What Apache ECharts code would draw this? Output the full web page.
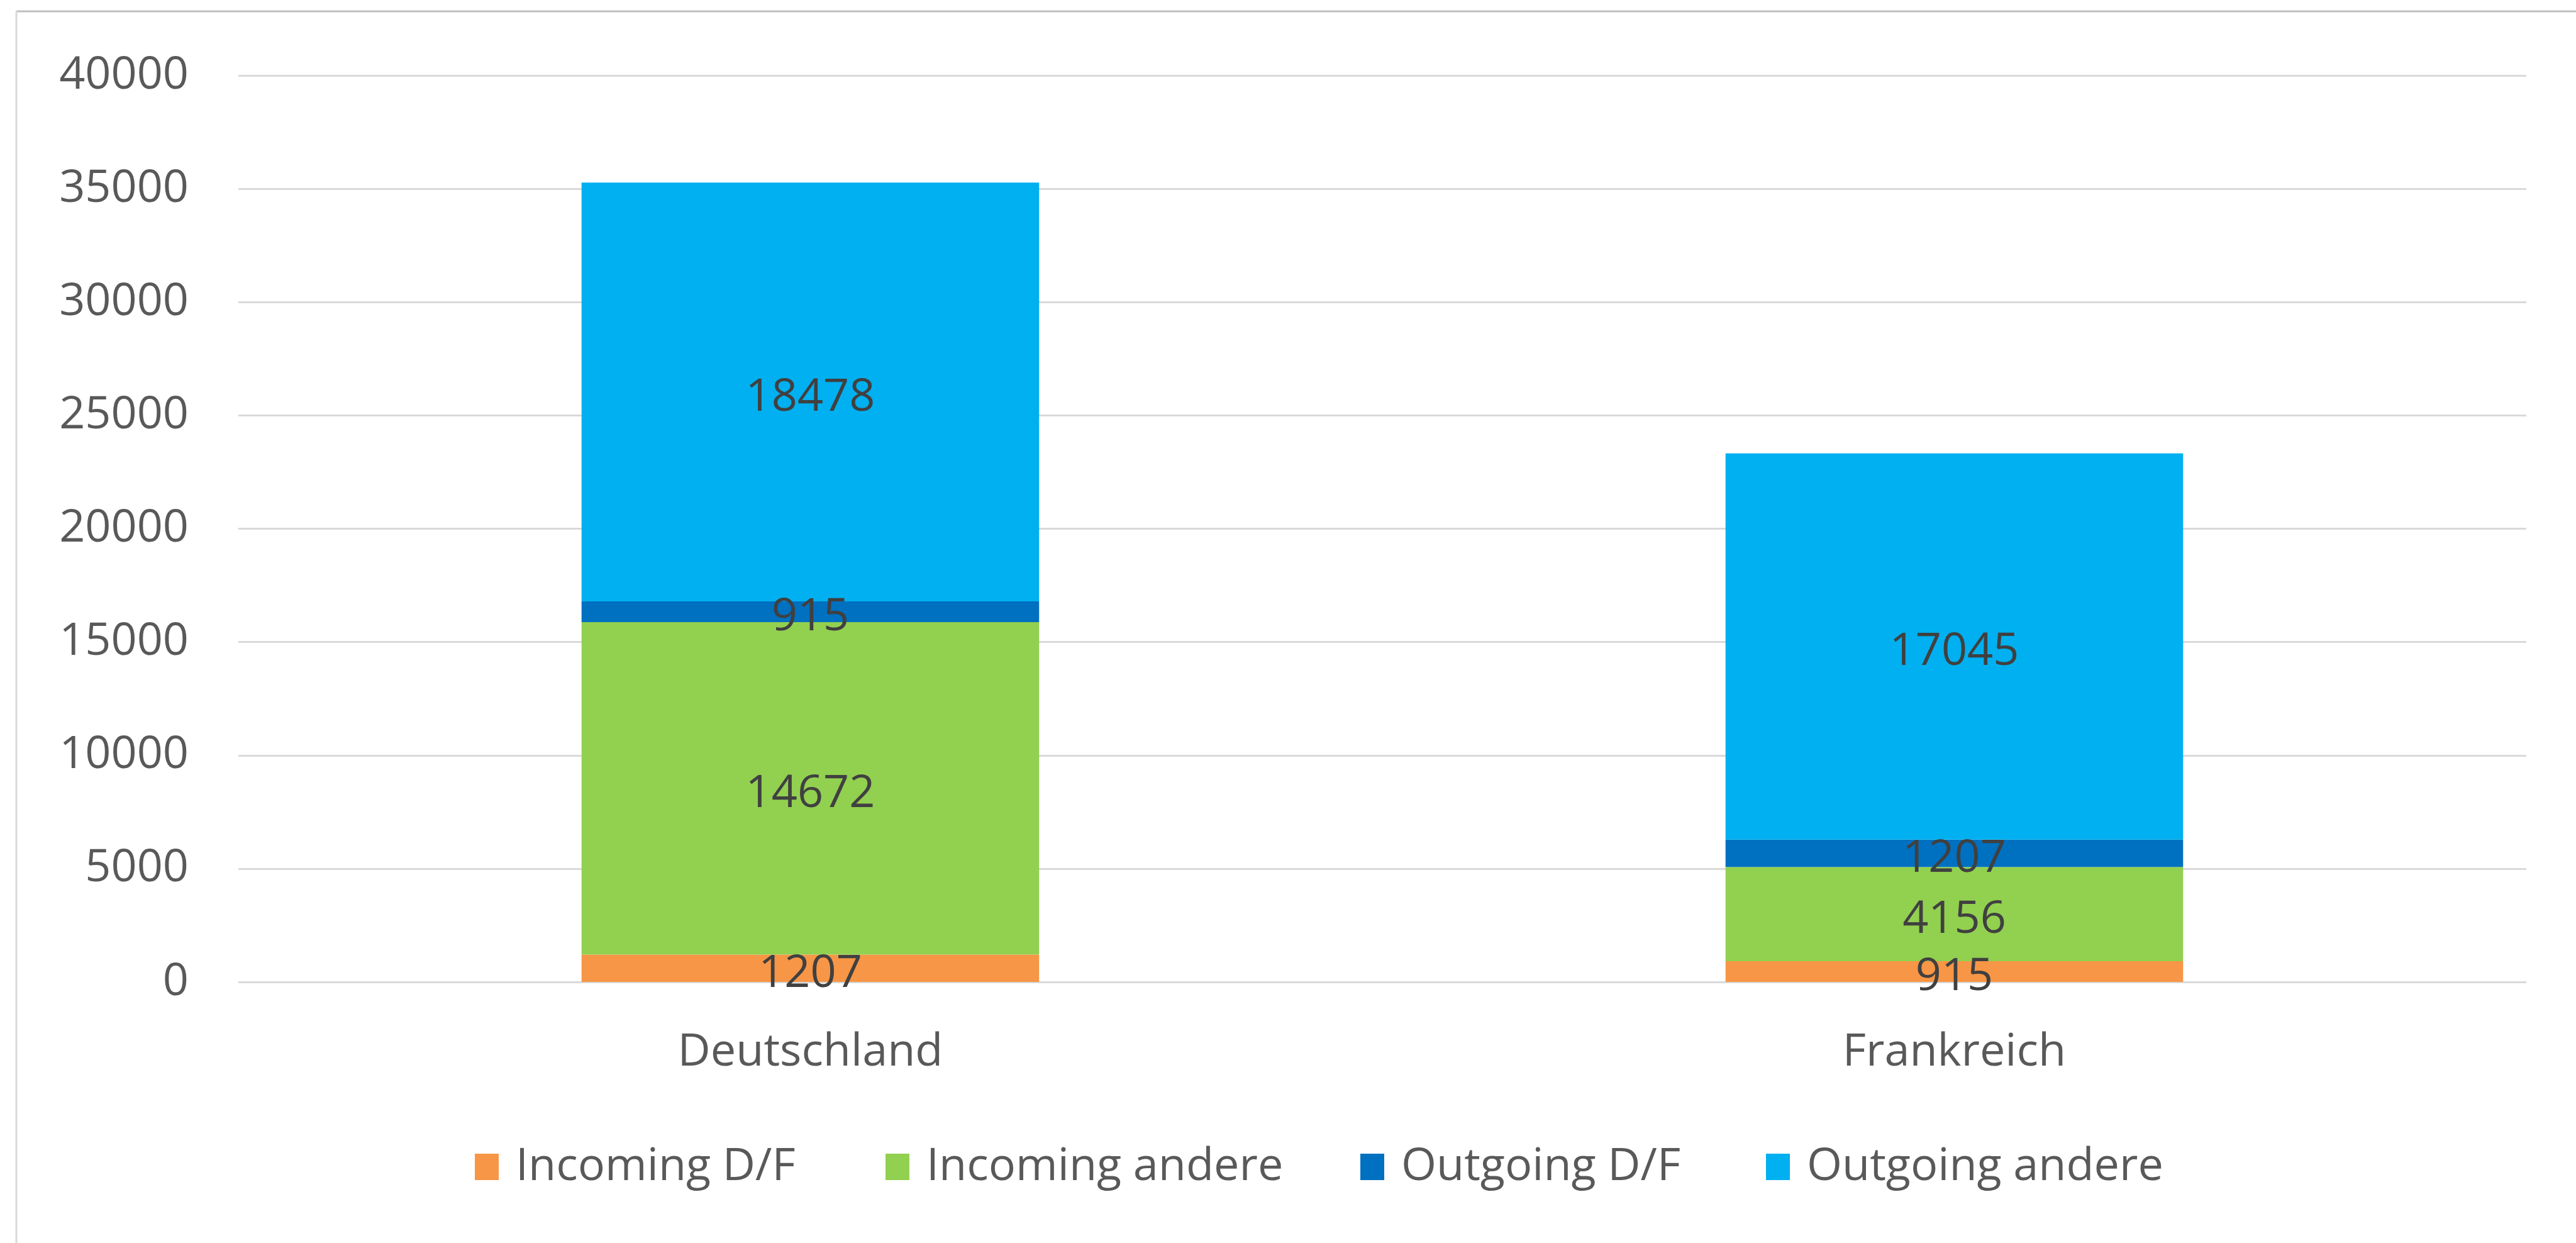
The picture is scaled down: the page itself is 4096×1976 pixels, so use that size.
<!DOCTYPE html>
<html>
<head>
<meta charset="utf-8">
<title>Incoming / Outgoing</title>
<script src="https://cdn.jsdelivr.net/npm/echarts@6/dist/echarts.min.js"></script>
<style>
    html, body { margin: 0; padding: 0; background: #fff; }
    #chart { width: 4096px; height: 1976px; }
</style>
</head>
<body>
<div id="chart"></div>
<script>
// Daten
var categories = ['Deutschland', 'Frankreich'];
var seriesNames = ['Incoming D/F', 'Incoming andere', 'Outgoing D/F', 'Outgoing andere'];
var incomingDF = [1207, 915];
var incomingAndere = [14672, 4156];
var outgoingDF = [915, 1207];
var outgoingAndere = [18478, 17045];
var yTicks = [0, 5000, 10000, 15000, 20000, 25000, 30000, 35000, 40000];

var colors = ['#F79646', '#92D050', '#0070C0', '#00B0F0'];
var values = [incomingDF, incomingAndere, outgoingDF, outgoingAndere];
var legendLeft = [750, 1403, 2158, 2803];
var font = 'Open Sans';

var chart = echarts.init(document.getElementById('chart'));

var series = [];
var legends = [];
for (var i = 0; i < seriesNames.length; i++) {
    series.push({
        name: seriesNames[i],
        type: 'bar',
        stack: 'total',
        barWidth: '40%',
        itemStyle: {color: colors[i]},
        label: {
            show: true,
            position: 'inside',
            offset: [0, 9],
            color: '#404040',
            fontFamily: font,
            fontSize: 72
        },
        data: values[i]
    });
    // eine Legende pro Eintrag, damit die Abstände stimmen
    legends.push({
        data: [seriesNames[i]],
        left: legendLeft[i],
        top: 1814,
        itemWidth: 38,
        itemHeight: 42,
        icon: 'rect',
        textStyle: {
            color: '#595959',
            fontFamily: font,
            fontSize: 72,
            padding: [0, 0, 0, 22]
        }
    });
}

var option = {
    backgroundColor: '#ffffff',
    animation: false,
    legend: legends,
    grid: {
        left: 379,
        right: 79,
        top: 120,
        bottom: 415
    },
    xAxis: {
        type: 'category',
        data: categories,
        axisLine: {show: false},
        axisTick: {show: false},
        axisLabel: {
            color: '#595959',
            fontFamily: font,
            fontSize: 72,
            lineHeight: 72,
            margin: 76
        }
    },
    yAxis: {
        type: 'value',
        min: yTicks[0],
        max: yTicks[yTicks.length - 1],
        interval: yTicks[1] - yTicks[0],
        axisLine: {show: false},
        axisTick: {show: false},
        axisLabel: {
            color: '#595959',
            fontFamily: font,
            fontSize: 72,
            margin: 79,
            formatter: function (v) {
                return String(v);
            }
        },
        splitLine: {
            lineStyle: {color: '#D9D9D9', width: 3}
        }
    },
    graphic: [
        {
            type: 'line',
            shape: {x1: 26, y1: 18, x2: 4096, y2: 18},
            style: {stroke: '#BFBFBF', lineWidth: 3}
        },
        {
            type: 'line',
            shape: {x1: 26, y1: 18, x2: 26, y2: 1976},
            style: {stroke: '#D9D9D9', lineWidth: 3}
        }
    ],
    series: series
};

chart.setOption(option);
</script>
</body>
</html>
